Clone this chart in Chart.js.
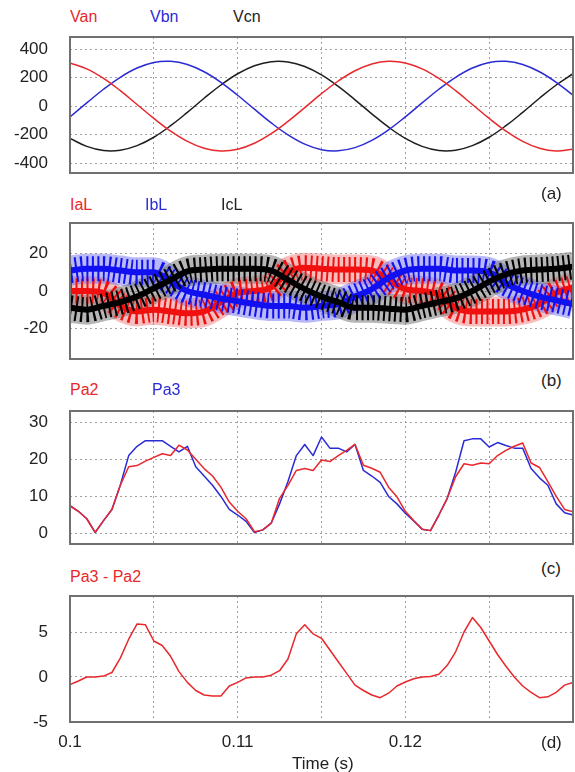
<!DOCTYPE html>
<html>
<head>
<meta charset="utf-8">
<script src="https://cdn.jsdelivr.net/npm/chart.js@4.4.1/dist/chart.umd.min.js"></script>
<style>
  body { margin: 0; background: #fff; }
  #wrap { position: relative; width: 575px; height: 772px; font-family: "Liberation Sans", Arial, sans-serif; }
  .box { position: absolute; left: 0; }
  .lbl { position: absolute; font-size: 16px; line-height: 16px; white-space: nowrap; }
  .tag { position: absolute; font-size: 17px; line-height: 17px; color: #222; white-space: nowrap; }
</style>
</head>
<body>
<div id="wrap">
  <div class="lbl" style="left:70px;top:9px;color:#e8282c">Van</div>
  <div class="lbl" style="left:150px;top:9px;color:#2b2bd6">Vbn</div>
  <div class="lbl" style="left:233px;top:9px;color:#222">Vcn</div>
  <div class="box" style="top:25px"><canvas id="chA" width="575" height="160"></canvas></div>
  <div class="tag" style="left:541px;top:185px">(a)</div>

  <div class="lbl" style="left:70px;top:197px;color:#e8282c">IaL</div>
  <div class="lbl" style="left:145px;top:197px;color:#2b2bd6">IbL</div>
  <div class="lbl" style="left:221px;top:197px;color:#222">IcL</div>
  <div class="box" style="top:211px"><canvas id="chB" width="575" height="160"></canvas></div>
  <div class="tag" style="left:541px;top:372px">(b)</div>

  <div class="lbl" style="left:70px;top:382px;color:#e8282c">Pa2</div>
  <div class="lbl" style="left:152px;top:382px;color:#2b2bd6">Pa3</div>
  <div class="box" style="top:399px"><canvas id="chC" width="575" height="157"></canvas></div>
  <div class="tag" style="left:541px;top:560px">(c)</div>

  <div class="lbl" style="left:70px;top:569px;color:#e8282c">Pa3 - Pa2</div>
  <div class="box" style="top:584px"><canvas id="chD" width="575" height="168"></canvas></div>
  <div class="tag" style="left:541px;top:734px">(d)</div>
  <div class="tag" style="left:292px;top:755px">Time (s)</div>
</div>
<script>
// time bases (s)
const tCoarse = [0.100,0.101,0.102,0.103,0.104,0.105,0.106,0.107,0.108,0.109,0.110,0.111,0.112,0.113,0.114,0.115,
  0.116,0.117,0.118,0.119,0.120,0.121,0.122,0.123,0.124,0.125,0.126,0.127,0.128,0.129,0.130];
const tFine = [0.1000,0.1005,0.1010,0.1015,0.1020,0.1025,0.1030,0.1035,0.1040,0.1045,0.1050,0.1055,0.1060,0.1065,
  0.1070,0.1075,0.1080,0.1085,0.1090,0.1095,0.1100,0.1105,0.1110,0.1115,0.1120,0.1125,0.1130,0.1135,0.1140,0.1145,
  0.1150,0.1155,0.1160,0.1165,0.1170,0.1175,0.1180,0.1185,0.1190,0.1195,0.1200,0.1205,0.1210,0.1215,0.1220,0.1225,
  0.1230,0.1235,0.1240,0.1245,0.1250,0.1255,0.1260,0.1265,0.1270,0.1275,0.1280,0.1285,0.1290,0.1295,0.1300];

// (a) phase voltages
const Van = [303,261,194,108,11,-87,-176,-248,-296,-315,-303,-261,-194,-108,-11,87,176,248,296,315,303,261,194,108,11,-87,-176,-248,-296,-315,-303];
const Vbn = [-76,22,118,202,267,306,314,292,241,167,76,-22,-118,-202,-267,-306,-314,-292,-241,-167,-76,22,118,202,267,306,314,292,241,167,76];
const Vcn = [-227,-283,-312,-310,-278,-219,-138,-44,55,148,227,283,312,310,278,219,138,44,-55,-148,-227,-283,-312,-310,-278,-219,-138,-44,55,148,227];

// (b) load currents (centre of the ripple band)
const IaL = [0,0,-1,-8,-11,-10,-11,-12,-11,-6,-1,0,2,10,12.5,12,11.5,11.5,11,6,1,0,-2,-9,-11,-11,-11,-10,-7,-1,2];
const IbL = [11,12,12,11,10,10,5,0,-2,-4,-5.5,-7,-8,-8,-9,-8,-7,-3,1,7,11,12,12,11,11,10,4,0,-3,-5,-7];
const IcL = [-9,-10,-8,-6,-3,1.5,6,10.5,11.5,12,12,12,11,6,1,-3,-6,-9,-9,-9.5,-10,-8,-6,-4,0,5,9,11,11.5,12,13];

// (c) powers
const Pa2 = [7.5,6,4,0.3,3.5,6.5,13,18,18.3,19.5,20.5,21.5,21,23.8,22.5,20,17.5,15.5,12.5,8.5,6,4,0.5,1,2.8,9.5,13,17,17.5,17,
  19.8,19.4,21,22.4,24,18.4,17.6,16.5,12.5,9.9,6,3.5,1.2,0.8,5,9.5,15.3,18.8,18.4,19,18.8,21,22.4,23.5,24.4,19,17.8,14,10,6.5,5.9];
const Pa3 = [7.5,6,4,0.3,3.5,6.5,13,21,23.5,25,25,25,23.5,22,23.5,18,15.5,13,10,6.5,5,3.3,0.3,1,2.8,8,14,21,24,21,
  26,23,23,22,24,17,15.5,13.8,10,8,5.5,3.4,1.2,0.8,5,9.5,16.5,25,25.5,25.5,23.3,24.5,23.7,23,23,17.5,15,13,8,5.6,5];

// (d) difference
const Pdiff = [-0.85,-0.45,0,0,0.1,0.5,2.1,4.2,5.9,5.8,4,3.5,2.3,0.6,-0.6,-1.5,-2,-2.1,-2.1,-1,-0.6,-0.1,0,0,0.2,0.7,2,4.8,5.8,4.8,
  4.3,3,1.7,0.4,-0.9,-1.5,-2,-2.3,-1.8,-1,-0.55,-0.2,0,0.05,0.3,1.3,2.8,5,6.6,5.5,4,2.5,1.2,0,-1,-1.7,-2.3,-2.2,-1.7,-0.9,-0.6];

// axes
const xGrid = [0.1,0.105,0.11,0.115,0.12,0.125,0.13];
const xLabels = {0.1: '0.1', 0.11: '0.11', 0.12: '0.12'};
const yTicksA = [-400,-200,0,200,400];
const yTicksB = [-20,0,20];
const yTicksC = [0,10,20,30];
const yTicksD = [-5,0,5];

const RED = '#e8282c', BLUE = '#2b2bd6', BLACK = '#1e1e1e';
const FONT = '"Liberation Sans", Arial, sans-serif';

const pts = (ts, vs) => ts.map((t, i) => ({x: t, y: vs[i]}));

const frame = {
  id: 'frame',
  afterDraw(chart) {
    const {ctx, chartArea: a} = chart;
    ctx.save();
    ctx.strokeStyle = '#707070';
    ctx.lineWidth = 2;
    ctx.strokeRect(a.left, a.top, a.right - a.left, a.bottom - a.top);
    ctx.restore();
  }
};

function line(data, color, width, extra) {
  return Object.assign({data, borderColor: color, borderWidth: width, pointRadius: 0, fill: false}, extra || {});
}

function panel(id, datasets, yMin, yMax, yTicks, showX) {
  return new Chart(document.getElementById(id), {
    type: 'line',
    data: {datasets},
    options: {
      animation: false,
      responsive: false,
      layout: {padding: {top: 12, bottom: showX ? 0 : 12, left: 0, right: 2}},
      plugins: {legend: {display: false}, tooltip: {enabled: false}},
      elements: {point: {radius: 0}, line: {borderJoinStyle: 'round'}},
      scales: {
        x: {
          type: 'linear', min: 0.1, max: 0.13,
          afterBuildTicks: s => { s.ticks = xGrid.map(v => ({value: v})); },
          afterFit: s => { s.height = showX ? 30 : 0; s.paddingLeft = 0; s.paddingRight = 0; },
          grid: {color: '#a0a0a0', lineWidth: 1, drawTicks: false},
          border: {display: false, dash: [2, 3]},
          ticks: {
            display: showX, autoSkip: false, maxRotation: 0, padding: 10, color: '#222',
            font: {size: 17, family: FONT},
            callback: v => xLabels[v] || ''
          }
        },
        y: {
          min: yMin, max: yMax,
          afterBuildTicks: s => { s.ticks = yTicks.map(v => ({value: v})); },
          // keep the label gap from inflating the vertical padding
          afterFit: s => { s.width = 70; s.paddingTop = 0; s.paddingBottom = 0; },
          grid: {color: '#a0a0a0', lineWidth: 1, drawTicks: false},
          border: {display: false, dash: [2, 3]},
          ticks: {padding: 22, color: '#222', font: {size: 17, family: FONT}}
        }
      }
    },
    plugins: [frame]
  });
}

// (a)
panel('chA', [
  line(pts(tCoarse, Van), RED, 1.5, {tension: 0.4}),
  line(pts(tCoarse, Vbn), BLUE, 1.5, {tension: 0.4}),
  line(pts(tCoarse, Vcn), BLACK, 1.5, {tension: 0.4})
], -470, 485, yTicksA, false);

// (b) ripple bands: solid core, spiky dashed layer, light halo behind
const band = (vals, dark, light) => [
  line(pts(tCoarse, vals), dark, 6, {cubicInterpolationMode: 'monotone', clip: 0}),
  line(pts(tCoarse, vals), dark, 25, {cubicInterpolationMode: 'monotone', borderDash: [2, 3.5], clip: 0}),
  line(pts(tCoarse, vals), light, 30, {cubicInterpolationMode: 'monotone', clip: 0})
];
const bA = band(IaL, '#f01010', 'rgba(240,110,110,0.45)');
const bB = band(IbL, '#1010f0', 'rgba(100,100,240,0.45)');
const bC = band(IcL, '#000000', 'rgba(110,110,110,0.5)');
panel('chB', [bC[0], bC[1], bB[0], bB[1], bA[0], bA[1], bC[2], bB[2], bA[2]], -36.5, 36.5, yTicksB, false);

// (c)
panel('chC', [
  line(pts(tFine, Pa2), RED, 1.5),
  line(pts(tFine, Pa3), BLUE, 1.5)
], -2.8, 33, yTicksC, false);

// (d)
panel('chD', [
  line(pts(tFine, Pdiff), RED, 1.5)
], -5, 9, yTicksD, true);
</script>
</body>
</html>
